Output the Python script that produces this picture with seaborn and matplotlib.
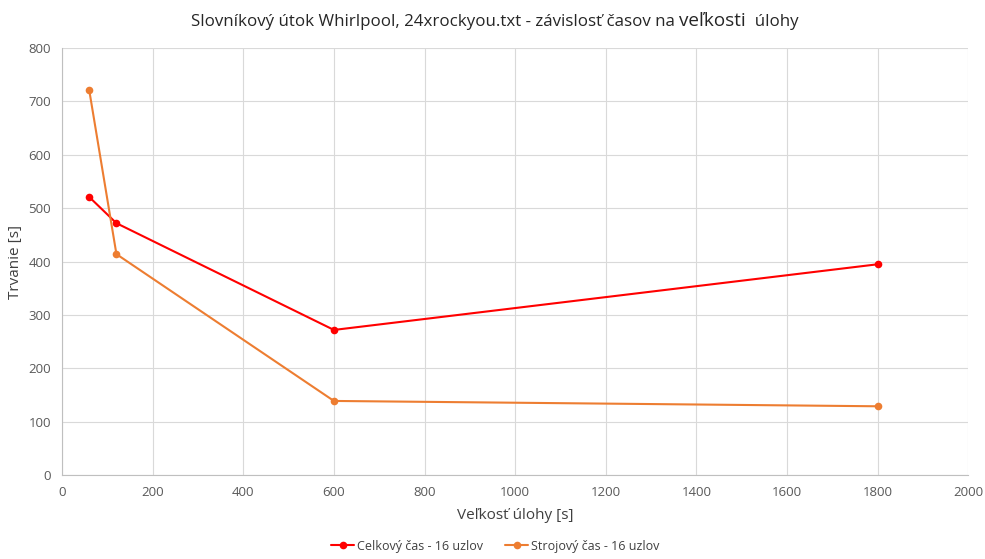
import matplotlib
matplotlib.use("Agg")
import matplotlib.pyplot as plt
import seaborn as sns
import pandas as pd

# Task size in seconds and measured durations
task_size = [60, 120, 600, 1800]
total_time = [521, 472, 272, 395]
machine_time = [721, 414, 139, 129]
series_names = ["Celkový čas - 16 uzlov", "Strojový čas - 16 uzlov"]
colors = ["#ff0000", "#ed7d31"]

# Title pieces; the middle word is set slightly larger
title_parts = ["Slovníkový útok Whirlpool, 24xrockyou.txt - závislosť časov na ",
               "veľkosti", "  úlohy"]
title_sizes = [12.2, 13.6, 12.2]

df = pd.DataFrame({
    "size": task_size * 2,
    "time": total_time + machine_time,
    "series": [series_names[0]] * len(task_size) + [series_names[1]] * len(task_size),
})

sns.set_theme(style="white")
plt.rcParams["font.family"] = ["Open Sans", "DejaVu Sans"]

fig = plt.figure(figsize=(9.85, 5.59), dpi=100)
ax = fig.add_axes([0.063, 0.150, 0.920, 0.764])

sns.lineplot(data=df, x="size", y="time", hue="series", palette=colors,
             marker="o", markersize=5.5, markeredgewidth=0, linewidth=1.5,
             sort=False, ax=ax, legend=True)

ax.set_xlim(0, 2000)
ax.set_ylim(0, 800)
ax.set_xticks(range(0, 2001, 200))
ax.set_yticks(range(0, 801, 100))
ax.grid(True, color="#d9d9d9", linewidth=0.8)
ax.set_axisbelow(True)
for s in ["top", "right"]:
    ax.spines[s].set_visible(False)
for s in ["left", "bottom"]:
    ax.spines[s].set_color("#bfbfbf")
    ax.spines[s].set_linewidth(0.8)
ax.tick_params(axis="both", labelsize=9.5, colors="#595959", length=0, pad=8)

ax.set_xlabel("Veľkosť úlohy [s]", fontsize=11, color="#404040", labelpad=6)
ax.set_ylabel("Trvanie [s]", fontsize=11, color="#404040")

# Title assembled from pieces, centred over the figure
renderer = fig.canvas.get_renderer()
texts = []
for part, size in zip(title_parts, title_sizes):
    t = fig.text(0, 0, part, fontsize=size, color="#262626", ha="left", va="baseline")
    texts.append(t)
widths = [t.get_window_extent(renderer).width for t in texts]
fig_w = fig.get_figwidth() * fig.dpi
x = (fig_w - sum(widths)) / 2 + 2
baseline_y = 1 - 26 / (fig.get_figheight() * fig.dpi)
for t, w in zip(texts, widths):
    t.set_position((x / fig_w, baseline_y))
    x += w

handles, labels = ax.get_legend_handles_labels()
ax.legend(handles, labels, loc="upper center", bbox_to_anchor=(0.478, -0.125),
          ncol=2, frameon=False, fontsize=9, handlelength=1.85, handletextpad=0.2,
          columnspacing=1.8, labelcolor="#404040")

fig.savefig("out.png", dpi=100)
